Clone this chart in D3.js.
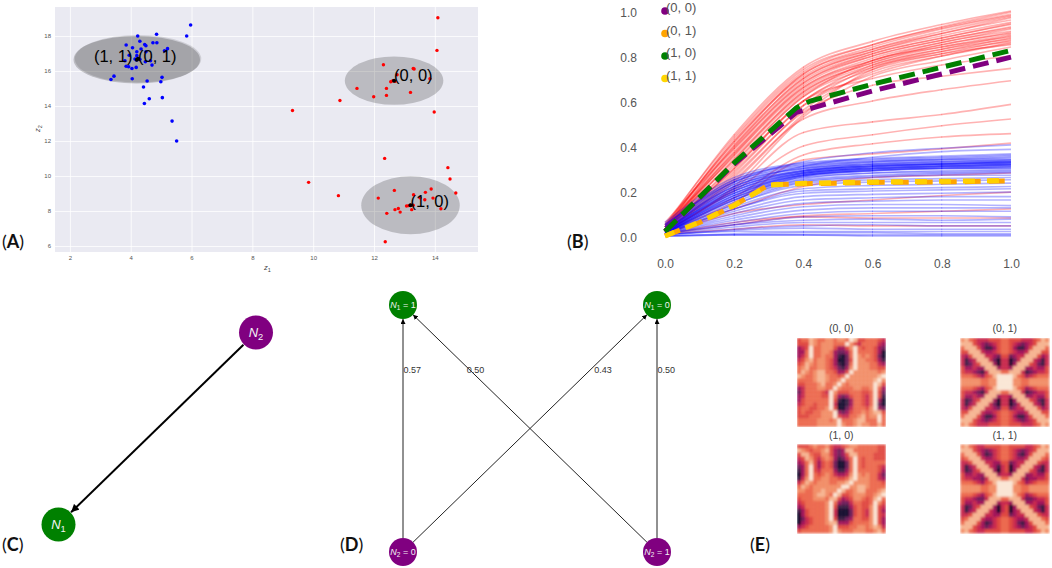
<!DOCTYPE html>
<html>
<head>
<meta charset="utf-8">
<script src="https://cdnjs.cloudflare.com/ajax/libs/d3/7.8.5/d3.min.js"></script>
<style>
body { margin: 0; background: white; }
svg { display: block; }
text { font-family: "Liberation Sans", Arial, sans-serif; }
</style>
</head>
<body>
<script>
//panel A: latent space points
var blueX = [5.97,5.84,4.85,4.23,4.30,3.85,4.46,4.50,4.73,4.86,4.06,4.34,5.21,5.11,4.20,3.95,4.50,4.20,3.81,4.14,4.19,4.30,4.65,4.48,4.70,3.85,3.93,4.04,4.18,3.45,3.35,4.05,4.54,5.03,4.99,4.42,4.61,5.04,4.45,5.36,5.51];
var blueY = [18.63,18.0,18.10,18.0,17.70,17.49,17.52,17.45,17.62,17.62,17.33,17.26,17.28,17.16,17.10,16.90,17.10,16.88,16.59,16.69,16.63,16.67,16.59,16.53,16.34,16.27,16.25,16.15,16.21,15.71,15.52,15.56,15.43,15.64,15.39,15.09,14.42,14.48,14.15,13.14,12.0];
var redX = [14.10,14.07,12.31,13.29,13.32,12.76,13.84,12.55,12.62,12.69,11.44,12.41,13.20,11.99,12.41,10.88,9.32,13.98,12.35,14.43,14.50,9.85,10.83,12.67,12.14,13.30,13.69,13.88,14.69,13.94,13.67,13.51,13.07,13.14,13.20,13.29,12.80,12.69,12.86,13.24,14.20,12.42,12.37];
var redY = [19.05,17.18,16.36,16.15,16.12,15.79,15.56,15.39,15.45,15.41,15.01,15.01,14.78,14.53,14.61,14.32,13.75,13.66,11.01,10.48,9.83,9.64,8.88,9.18,8.74,8.93,9.07,9.26,9.03,8.74,8.65,8.76,8.29,8.31,8.33,8.33,8.15,8.08,7.94,8.08,8.13,7.87,6.25];

//mixture components
var compNames = ["(0, 0)", "(1, 0)", "(1, 1)", "(0, 1)"];
var compMeanX = [12.66, 13.2, 4.2, 4.24];
var compMeanY = [15.45, 8.33, 16.65, 16.7];
var compRadX = [1.62, 1.62, 2.08, 2.08];
var compRadY = [1.38, 1.66, 1.36, 1.36];
var compLabelX = [12.66, 13.2, 2.79, 4.24];
var compLabelY = [15.43, 8.23, 16.53, 16.53];
var xTicksA = [2, 4, 6, 8, 10, 12, 14];
var yTicksA = [6, 8, 10, 12, 14, 16, 18];

//panel B: curves read at these x values
var curveX = [0, 0.2, 0.4, 0.6, 0.8, 1.0];
var redCurves = [
    [.04,.45,.75,.865,.94,1.0],[.05,.44,.74,.85,.93,.995],[.03,.43,.73,.85,.925,.985],
    [.04,.42,.72,.84,.92,.98],[.03,.42,.71,.83,.91,.975],[.05,.41,.72,.83,.90,.97],
    [.02,.40,.70,.82,.90,.96],[.04,.40,.70,.82,.89,.95],[.03,.39,.69,.81,.88,.945],
    [.06,.39,.68,.81,.88,.94],[.02,.38,.68,.80,.87,.93],[.03,.37,.67,.80,.87,.925],
    [.04,.37,.66,.79,.86,.92],[.02,.36,.66,.78,.86,.91],[.03,.36,.65,.78,.85,.905],
    [.05,.35,.64,.77,.85,.90],[.02,.34,.64,.77,.84,.895],[.03,.34,.63,.76,.83,.89],
    [.04,.33,.62,.78,.84,.885],[.02,.32,.62,.75,.82,.88],[.03,.31,.60,.76,.83,.875],
    [.02,.30,.60,.74,.81,.87],[.04,.29,.58,.75,.82,.865],[.03,.28,.58,.72,.80,.86],
    [.02,.26,.56,.73,.80,.855],[.03,.24,.54,.74,.81,.85],[.02,.22,.53,.71,.78,.84],
    [.03,.30,.60,.70,.76,.80],[.02,.27,.55,.67,.71,.745],[.02,.25,.52,.60,.65,.69],
    [.02,.21,.46,.507,.54,.585],[.02,.20,.40,.45,.49,.52],[.02,.17,.36,.41,.44,.455],
    [.02,.15,.338,.365,.387,.413],[.01,.12,.22,.26,.27,.28],[.01,.10,.14,.16,.18,.195],
    [.01,.06,.09,.10,.11,.12],[.01,.05,.085,.08,.08,.08],[.01,.03,.05,.045,.045,.045]
];
var blueCurves = [
    [.05,.24,.33,.37,.39,.405],[.04,.22,.31,.35,.375,.385],[.06,.26,.325,.345,.355,.365],
    [.05,.25,.32,.34,.35,.36],[.04,.25,.315,.335,.345,.355],[.03,.24,.31,.33,.34,.35],
    [.05,.24,.305,.33,.34,.345],[.02,.23,.30,.325,.335,.34],[.04,.23,.30,.32,.33,.338],
    [.03,.22,.295,.32,.33,.335],[.02,.22,.29,.315,.325,.33],[.03,.21,.29,.31,.32,.328],
    [.01,.21,.285,.31,.32,.325],[.02,.20,.28,.305,.315,.32],[.02,.20,.28,.30,.31,.318],
    [.01,.19,.275,.30,.31,.315],[.03,.19,.27,.295,.305,.31],[.01,.18,.27,.29,.30,.305],
    [.02,.18,.265,.29,.30,.30],[.01,.17,.26,.28,.29,.295],[.02,.17,.255,.28,.285,.29],
    [.01,.16,.25,.27,.28,.285],[.01,.16,.245,.265,.275,.28],[.01,.15,.24,.26,.27,.27],
    [.02,.21,.29,.315,.322,.332],[.01,.20,.285,.31,.32,.327],[.02,.19,.28,.305,.315,.322],
    [.01,.18,.275,.30,.31,.316],[.01,.17,.27,.295,.305,.31],[.01,.16,.265,.29,.30,.304],
    [.01,.14,.235,.25,.255,.26],[.01,.14,.225,.24,.245,.25],[.01,.13,.21,.225,.23,.235],
    [.01,.12,.20,.21,.215,.22],[.01,.12,.19,.20,.205,.21],[.01,.11,.175,.185,.19,.195],
    [.01,.10,.16,.17,.175,.175],[.01,.09,.145,.155,.16,.16],[.01,.08,.13,.14,.14,.135],
    [.01,.07,.115,.125,.125,.125],[.01,.06,.10,.11,.11,.11],[.01,.05,.085,.09,.09,.085],
    [.01,.05,.07,.075,.07,.075],[.005,.04,.06,.06,.06,.06],[.005,.03,.045,.05,.045,.045],
    [.005,.025,.035,.03,.03,.03],[.005,.02,.02,.02,.02,.02],[0,.01,.015,.015,.01,.01],
    [0,.005,.005,.005,.005,.005],[0,.005,.005,0,0,0]
];

//panel B: dashed mean curves
var meanPurpleX = [0, 0.2, 0.38, 0.44, 0.6, 0.8, 1.0];
var meanPurpleY = [0.02, 0.32, 0.55, 0.575, 0.645, 0.72, 0.795];
var meanOrangeX = [0, 0.1, 0.2, 0.3, 0.4, 0.6, 0.8, 1.0];
var meanOrangeY = [0, 0.06, 0.135, 0.228, 0.232, 0.238, 0.24, 0.245];
var meanGreenX = [0, 0.2, 0.38, 0.42, 0.6, 0.8, 1.0];
var meanGreenY = [0.02, 0.325, 0.57, 0.6, 0.675, 0.75, 0.825];
var meanGoldX = [0, 0.1, 0.2, 0.3, 0.4, 0.6, 0.8, 1.0];
var meanGoldY = [0, 0.062, 0.137, 0.226, 0.234, 0.24, 0.243, 0.247];
var legendNames = ["(0, 0)", "(0, 1)", "(1, 0)", "(1, 1)"];
var legendColors = ["#800080", "#ffa500", "#008000", "#ffd700"];
var legendValues = [1.0, 0.9, 0.8, 0.7];
var ticksB = [0, 0.2, 0.4, 0.6, 0.8, 1.0];

//panel E: heatmap levels, 0 darkest to 9 palest
var heat00 = [
"5668766776776985566654",
"5558767776669754666643",
"3459667775335796566532",
"3369667763223696666530",
"3469667663102697676520",
"4578677653002597766531",
"5687677653102697776643",
"6786677654213797776655",
"6876788665335977777767",
"8766788766569777777789",
"6666788766797777777897",
"5566678667976777777985",
"3466677669766677667963",
"2466665497555666556952",
"3466665596323566546951",
"3566666695101366546930",
"4566566694001366546920",
"5665566795002466657932",
"5655667779323566767885",
"5556667779544667867796",
"6666677767966678866696",
"6666677777976678776686"];
var heat10 = [
"5556766754456776666655",
"8765667853238866666655",
"5886557753235886666555",
"4587546763124696566555",
"3468535652002696566666",
"2369535652002696566654",
"1369546663113696666653",
"0369656764334797676642",
"1479667766556897776643",
"4687677766778977776665",
"6876777777799778876666",
"7766778777986678866678",
"6666788769855677766789",
"5666777688534577656896",
"4566666796322466556975",
"3466666795111356557954",
"1356666794000256547953",
"0356666794000256547954",
"0245666795112366557953",
"0345666788333566667953",
"3456666679555667767874",
"5666666679766677766786"];
var heat01 = [
"7865444555665554445687",
"8885432345665432345888",
"6888531135665311358886",
"5588843345665433488855",
"4358884432552344888534",
"4134888420440248884314",
"4124588830440388854214",
"5334338883443888334335",
"5443214888668884123445",
"6665435689999865345666",
"7777766779999776677777",
"7777766779999776677777",
"6665435689999865345666",
"5443214888668884123445",
"5334338883443888334335",
"4124588830440388854214",
"4134888420440248884314",
"4358884432552344888534",
"5588843345665433488855",
"6888531135665311358886",
"8885432345665432345888",
"7865444555665554445687"];
var heat11 = [
"7865445555665555445687",
"8885432345665432345888",
"6888531245665421358886",
"5688843345665433488865",
"4458884433552344888544",
"4134888431450348884314",
"4124588830450388854214",
"5334338883443888334335",
"5443324888668884233445",
"6665435689999865345666",
"7777766779999776677777",
"7777766779999776677777",
"6665435689999865345666",
"5443224888668884223445",
"5334338883443888334335",
"4124588830450388854214",
"4134888430450348884314",
"4458884433552344888544",
"5688843345665433488865",
"6888531245665421358886",
"8885432345665432345888",
"7865445555665555445687"];
var heatNames = ["(0, 0)", "(0, 1)", "(1, 0)", "(1, 1)"];

var svg = d3.select("body").append("svg")
    .attr("width", 1052)
    .attr("height", 568);

//arrow heads
function addArrow(id, size){
    svg.append("defs").append("marker")
        .attr("id", id)
        .attr("markerUnits", "userSpaceOnUse")
        .attr("viewBox", "0 0 10 10")
        .attr("refX", 10)
        .attr("refY", 5)
        .attr("markerWidth", size)
        .attr("markerHeight", size)
        .attr("orient", "auto")
        .append("path")
        .attr("d", "M0,0L10,5L0,10z")
        .attr("fill", "black");
}
addArrow("arrowC", 8);
addArrow("arrowD", 5);

//blur for the soft look of the small panels
var blur = svg.select("defs").append("filter").attr("id", "soft")
    .attr("x", 0).attr("y", 0).attr("width", 1).attr("height", 1);
blur.append("feGaussianBlur").attr("stdDeviation", 1.1);
var blurLines = svg.select("defs").append("filter").attr("id", "softLines");
blurLines.append("feGaussianBlur").attr("stdDeviation", 0.45);

drawScatter();
drawCurves();
drawGraphC();
drawGraphD();
drawHeatmaps();
drawPanelLabels();


function drawScatter(){
    var x = d3.scaleLinear().domain([1.51, 15.42]).range([55, 478]);
    var y = d3.scaleLinear().domain([5.66, 19.66]).range([252, 7]);
    var g = svg.append("g");

    g.append("rect")
        .attr("x", x.range()[0])
        .attr("y", y.range()[1])
        .attr("width", x.range()[1] - x.range()[0])
        .attr("height", y.range()[0] - y.range()[1])
        .attr("fill", "#eaeaf2");

    //axes with white grid
    var xAxis = g.append("g")
        .attr("transform", "translate(0,252)")
        .call(d3.axisBottom(x).tickValues(xTicksA).tickSize(-245).tickPadding(4));
    var yAxis = g.append("g")
        .attr("transform", "translate(55,0)")
        .call(d3.axisLeft(y).tickValues(yTicksA).tickSize(-423).tickPadding(4));
    [xAxis, yAxis].forEach(function(axis){
        axis.select(".domain").remove();
        axis.selectAll("line").attr("stroke", "white").attr("stroke-width", 0.8);
        axis.selectAll("text")
            .style("font-family", "'Liberation Sans'")
            .style("font-size", "6px")
            .attr("fill", "#555");
    });

    //components go under the points
    g.selectAll(".comp").data(compNames).enter().append("ellipse")
        .attr("class", "comp")
        .attr("cx", function(d, i){ return x(compMeanX[i]); })
        .attr("cy", function(d, i){ return y(compMeanY[i]); })
        .attr("rx", function(d, i){ return x(compRadX[i]) - x(0); })
        .attr("ry", function(d, i){ return y(0) - y(compRadY[i]); })
        .attr("fill", "black")
        .attr("opacity", function(d, i){ return i == 3 ? 0.12 : 0.2; });

    //points
    g.selectAll(".blue").data(blueX).enter().append("circle")
        .attr("class", "blue")
        .attr("cx", function(d){ return x(d); })
        .attr("cy", function(d, i){ return y(blueY[i]); })
        .attr("r", 1.8)
        .attr("fill", "#0000ff");
    g.selectAll(".red").data(redX).enter().append("circle")
        .attr("class", "red")
        .attr("cx", function(d){ return x(d); })
        .attr("cy", function(d, i){ return y(redY[i]); })
        .attr("r", 1.7)
        .attr("fill", "#ff0000");

    //means and labels
    g.selectAll(".mean").data(compNames).enter().append("circle")
        .attr("class", "mean")
        .attr("cx", function(d, i){ return x(compMeanX[i]); })
        .attr("cy", function(d, i){ return y(compMeanY[i]); })
        .attr("r", 2)
        .attr("fill", "black");
    g.selectAll(".compLabel").data(compNames).enter().append("text")
        .attr("class", "compLabel")
        .attr("x", function(d, i){ return x(compLabelX[i]); })
        .attr("y", function(d, i){ return y(compLabelY[i]); })
        .style("font-size", "16.5px")
        .attr("fill", "black")
        .text(function(d){ return d; });

    //axis names
    zLabel(g, "1").attr("x", 264).attr("y", 270);
    zLabel(g, "2").attr("transform", "translate(40,132) rotate(-90)");
}

function zLabel(g, index){
    var t = g.append("text").attr("fill", "#444").style("font-size", "7.5px");
    t.append("tspan").style("font-style", "italic").text("z");
    t.append("tspan").attr("dy", 1.5).style("font-size", "5.5px").text(index);
    return t;
}

function drawCurves(){
    var x = d3.scaleLinear().domain([0, 1]).range([665, 1011]);
    var y = d3.scaleLinear().domain([0, 1]).range([236, 11]);
    var g = svg.append("g");

    var thin = d3.line()
        .x(function(d, i){ return x(curveX[i]); })
        .y(function(d){ return y(d); })
        .curve(d3.curveMonotoneX);

    function drawBundle(curves, color, opacity){
        var bundle = g.append("g")
            .attr("filter", "url(#softLines)")
            .attr("fill", "none")
            .attr("stroke", color)
            .attr("stroke-width", 1.7)
            .attr("stroke-opacity", opacity);
        bundle.selectAll("path").data(curves).enter().append("path")
            .attr("d", thin);
        //the segments overlap at every knot, which darkens the line there
        curves.forEach(function(curve){
            curve.forEach(function(v, i){
                if(i == 0 || i == curve.length - 1) return;
                bundle.append("line")
                    .attr("x1", x(curveX[i]) - 0.4)
                    .attr("x2", x(curveX[i]) + 0.4)
                    .attr("y1", y(v))
                    .attr("y2", y(v));
            });
        });
    }
    drawBundle(redCurves, "#ff0000", 0.3);
    drawBundle(blueCurves, "#0000ff", 0.3);

    //dashed means
    function drawMean(xs, ys, color, dash, offset){
        g.append("path")
            .datum(xs)
            .attr("d", d3.line()
                .x(function(d){ return x(d); })
                .y(function(d, i){ return y(ys[i]); }))
            .attr("fill", "none")
            .attr("stroke", color)
            .attr("stroke-width", 5)
            .attr("stroke-dasharray", dash)
            .attr("stroke-dashoffset", offset);
    }
    drawMean(meanPurpleX, meanPurpleY, "#800080", "16,8", 0);
    drawMean(meanOrangeX, meanOrangeY, "#ffa500", "16,8", 0);
    drawMean(meanGreenX, meanGreenY, "#008000", "16,8", 0);
    drawMean(meanGoldX, meanGoldY, "#ffd000", "12,12", 2);

    //legend sits in data coordinates
    g.selectAll(".legendDot").data(legendNames).enter().append("circle")
        .attr("class", "legendDot")
        .attr("cx", x(0))
        .attr("cy", function(d, i){ return y(legendValues[i]); })
        .attr("r", 3.8)
        .attr("fill", function(d, i){ return legendColors[i]; });
    g.selectAll(".legendText").data(legendNames).enter().append("text")
        .attr("class", "legendText")
        .attr("x", x(0) + 1)
        .attr("y", function(d, i){ return y(legendValues[i]) + 1; })
        .attr("fill", "#555")
        .style("font-size", "13px")
        .text(function(d){ return d; });

    //axes without lines
    var xAxis = g.append("g")
        .attr("transform", "translate(0,236)")
        .call(d3.axisBottom(x).tickValues(ticksB).tickFormat(d3.format(".1f")).tickSize(0).tickPadding(23));
    var yAxis = g.append("g")
        .attr("transform", "translate(665,0)")
        .call(d3.axisLeft(y).tickValues(ticksB).tickFormat(d3.format(".1f")).tickSize(0).tickPadding(28));
    [xAxis, yAxis].forEach(function(axis){
        axis.select(".domain").remove();
        axis.selectAll("text")
            .style("font-family", "'Liberation Sans'")
            .style("font-size", "12px")
            .attr("fill", "#555");
    });
    yAxis.selectAll("text").attr("dy", "0.45em");
}

//draws "N" with a subscript and an optional tail, centred on the node
function nodeText(g, cx, cy, index, tail, size){
    var t = g.append("text")
        .attr("x", cx)
        .attr("y", cy + size * 0.35)
        .attr("text-anchor", "middle")
        .attr("fill", "#f4f4f4")
        .style("font-size", size + "px");
    t.append("tspan").style("font-style", "italic").text("N");
    t.append("tspan").attr("dy", size * 0.22).style("font-size", (size * 0.72) + "px").text(index);
    if(tail){
        t.append("tspan").attr("dy", -size * 0.22).text(tail);
    }
}

function shorten(x1, y1, x2, y2, r){
    var len = Math.sqrt((x2 - x1) * (x2 - x1) + (y2 - y1) * (y2 - y1));
    return [x1 + (x2 - x1) * r / len, y1 + (y2 - y1) * r / len,
            x2 - (x2 - x1) * r / len, y2 - (y2 - y1) * r / len];
}

function drawGraphC(){
    var x = d3.scalePoint().domain(["1", "2"]).range([58.5, 256]);
    var y = d3.scalePoint().domain(["1", "2"]).range([524.5, 332.5]);
    var g = svg.append("g");
    var p = shorten(x("2"), y("2"), x("1"), y("1"), 17.5);

    g.append("line")
        .attr("x1", p[0]).attr("y1", p[1])
        .attr("x2", p[2]).attr("y2", p[3])
        .attr("stroke", "black")
        .attr("stroke-width", 2)
        .attr("marker-end", "url(#arrowC)");

    [["1", "#008000"], ["2", "#800080"]].forEach(function(n){
        g.append("circle")
            .attr("cx", x(n[0])).attr("cy", y(n[0]))
            .attr("r", 17)
            .attr("fill", n[1]);
        nodeText(g, x(n[0]), y(n[0]), n[0], "", 13);
    });
}

function drawGraphD(){
    var edgeFrom = ["0", "1", "0", "1"];
    var edgeTo = ["1", "1", "0", "0"];
    var edgeProb = ["0.57", "0.50", "0.43", "0.50"];

    var x = d3.scalePoint().domain(["0", "1"]);
    var topX = x.copy().domain(["1", "0"]).range([403, 657]);
    var botX = x.copy().domain(["0", "1"]).range([403, 657]);
    var topY = 305, botY = 552;
    var g = svg.append("g");

    edgeProb.forEach(function(prob, i){
        var p = shorten(botX(edgeFrom[i]), botY, topX(edgeTo[i]), topY, 14);
        g.append("line")
            .attr("x1", p[0]).attr("y1", p[1])
            .attr("x2", p[2]).attr("y2", p[3])
            .attr("stroke", "#222")
            .attr("stroke-width", 1)
            .attr("marker-end", "url(#arrowD)");
        //label sits about a quarter of the way down from the head
        var t = 0.263;
        var lx = topX(edgeTo[i]) + (botX(edgeFrom[i]) - topX(edgeTo[i])) * t;
        var ly = topY + (botY - topY) * t;
        g.append("text")
            .attr("x", lx + [0.5, -3, 4, 0.5][i])
            .attr("y", ly + 3)
            .attr("fill", "#333")
            .style("font-size", "9px")
            .text(prob);
    });

    ["1", "0"].forEach(function(v){
        g.append("circle").attr("cx", topX(v)).attr("cy", topY).attr("r", 14).attr("fill", "#008000");
        nodeText(g, topX(v), topY, "1", " = " + v, 9);
        g.append("circle").attr("cx", botX(v)).attr("cy", botY).attr("r", 14).attr("fill", "#800080");
        nodeText(g, botX(v), botY, "2", " = " + v, 9);
    });
}

function drawHeatmaps(){
    var rocket = d3.scaleLinear()
        .domain([0, 1, 2, 3, 4, 5, 6, 7, 8, 9])
        .range(["#14102e", "#3c1a45", "#6f1f5a", "#a3195b", "#c92a50", "#e04a42", "#ec6a4f", "#f28e68", "#f6b592", "#fae6d5"]);

    var size = 88.5;
    var maps = [heat00, heat01, heat10, heat11];
    var lefts = [797, 960.5, 797, 960.5];
    var tops = [338, 338, 444.5, 444.5];

    maps.forEach(function(rows, m){
        var cx = d3.scaleBand().domain(d3.range(rows[0].length)).range([lefts[m], lefts[m] + size]);
        var cy = d3.scaleBand().domain(d3.range(rows.length)).range([tops[m], tops[m] + size]);
        var g = svg.append("g").attr("filter", "url(#soft)");

        rows.forEach(function(row, r){
            g.selectAll(".r" + r).data(row.split("")).enter().append("rect")
                .attr("class", "r" + r)
                .attr("x", function(d, c){ return cx(c); })
                .attr("y", cy(r))
                .attr("width", cx.bandwidth() + 0.3)
                .attr("height", cy.bandwidth() + 0.3)
                .attr("fill", function(d){ return rocket(+d); });
        });

        svg.append("text")
            .attr("x", lefts[m] + size / 2)
            .attr("y", tops[m] - 6)
            .attr("text-anchor", "middle")
            .attr("fill", "#444")
            .style("font-size", "10.5px")
            .text(heatNames[m]);
    });
}

function drawPanelLabels(){
    var names = ["A", "B", "C", "D", "E"];
    var lx = [2, 567, 2, 340, 750];
    var ly = [248, 248, 551, 551, 551];
    names.forEach(function(name, i){
        var t = svg.append("text")
            .attr("x", lx[i])
            .attr("y", ly[i])
            .attr("fill", "#111")
            .style("font-family", "Lato")
            .style("font-size", "18px");
        t.append("tspan").text("(");
        t.append("tspan").style("font-weight", "bold").text(name);
        t.append("tspan").text(")");
    });
}
</script>
</body>
</html>
